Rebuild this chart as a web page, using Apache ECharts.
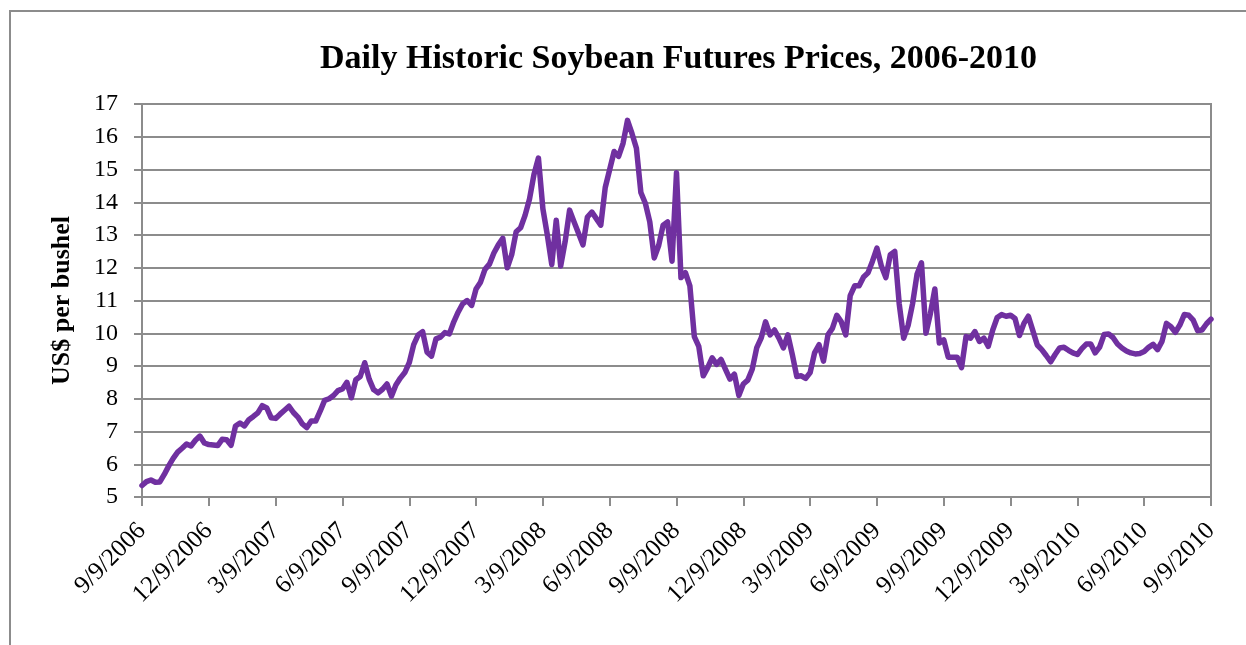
<!DOCTYPE html>
<html>
<head>
<meta charset="utf-8">
<script src="https://cdn.jsdelivr.net/npm/echarts@6/dist/echarts.min.js"></script>
<style>
    html, body { margin: 0; padding: 0; background: #fff; }
    #soyChart { width: 1246px; height: 645px; }
</style>
</head>
<body>
<div id="soyChart"></div>
<script>
    // quarter tick labels, every 3 months from 9/9/2006
    var tickLabels = ['9/9/2006', '12/9/2006', '3/9/2007', '6/9/2007', '9/9/2007', '12/9/2007',
        '3/9/2008', '6/9/2008', '9/9/2008', '12/9/2008', '3/9/2009', '6/9/2009', '9/9/2009',
        '12/9/2009', '3/9/2010', '6/9/2010', '9/9/2010'];

    // months between two readings
    var monthStep = 0.2;

    // US$ per bushel, one row per quarter
    var prices = [
        5.35, 5.47, 5.52, 5.45, 5.46, 5.69, 5.95, 6.18, 6.37, 6.49, 6.62, 6.56, 6.73, 6.86, 6.65,
        6.6, 6.59, 6.57, 6.76, 6.75, 6.58, 7.17, 7.26, 7.17, 7.36, 7.46, 7.57, 7.79, 7.72, 7.42,
        7.4, 7.53, 7.65, 7.77, 7.58, 7.44, 7.23, 7.12, 7.32, 7.32, 7.62, 7.95, 8.0, 8.1, 8.25,
        8.3, 8.5, 8.03, 8.58, 8.68, 9.1, 8.6, 8.28, 8.18, 8.29, 8.45, 8.08, 8.42, 8.63, 8.8,
        9.1, 9.65, 9.95, 10.05, 9.42, 9.3, 9.83, 9.88, 10.02, 9.98, 10.35, 10.65, 10.9, 11.0, 10.85,
        11.35, 11.56, 11.95, 12.11, 12.45, 12.7, 12.9, 12.0, 12.4, 13.1, 13.22, 13.6, 14.1, 14.85, 15.35,
        13.8, 13.0, 12.1, 13.45, 12.05, 12.8, 13.76, 13.4, 13.05, 12.7, 13.55, 13.7, 13.5, 13.3, 14.45,
        15.0, 15.55, 15.4, 15.8, 16.5, 16.1, 15.65, 14.3, 13.97, 13.4, 12.3, 12.68, 13.3, 13.4, 12.2,
        14.9, 11.7, 11.85, 11.45, 9.9, 9.6, 8.7, 8.95, 9.25, 9.05, 9.2, 8.9, 8.6, 8.75, 8.1,
        8.45, 8.57, 8.9, 9.55, 9.85, 10.35, 9.95, 10.1, 9.85, 9.55, 9.95, 9.35, 8.68, 8.7, 8.62,
        8.8, 9.4, 9.65, 9.15, 9.95, 10.15, 10.55, 10.35, 9.95, 11.15, 11.45, 11.45, 11.72, 11.85, 12.2,
        12.6, 12.05, 11.7, 12.4, 12.5, 10.9, 9.85, 10.24, 10.9, 11.8, 12.15, 10.0, 10.6, 11.35, 9.7,
        9.8, 9.27, 9.27, 9.27, 8.95, 9.9, 9.85, 10.05, 9.75, 9.85, 9.6, 10.1, 10.48, 10.57, 10.52,
        10.55, 10.45, 9.93, 10.3, 10.52, 10.08, 9.64, 9.5, 9.32, 9.13, 9.35, 9.55, 9.57, 9.48, 9.4,
        9.35, 9.53, 9.67, 9.67, 9.4, 9.58, 9.96, 9.98, 9.87, 9.67, 9.55, 9.46, 9.4, 9.37, 9.38,
        9.44, 9.57, 9.66, 9.5, 9.75, 10.3, 10.2, 10.03, 10.25, 10.57, 10.55, 10.4, 10.08, 10.1, 10.29,
        10.43
    ];

    var seriesData = prices.map(function (p, i) {
        return [i * monthStep, p];
    });

    var gridGray = '#8c8c8c';
    var serif = '"Liberation Serif", "DejaVu Serif", serif';

    var soyChart = echarts.init(document.getElementById('soyChart'));
    var option = {
        backgroundColor: '#fff',
        animation: false,
        graphic: [{
            type: 'rect',
            shape: {x: 10, y: 11, width: 1400, height: 800},
            style: {fill: 'none', stroke: gridGray, lineWidth: 2}
        }],
        title: {
            text: 'Daily Historic Soybean Futures Prices, 2006-2010',
            left: 315,
            top: 37,
            textStyle: {
                fontFamily: serif,
                fontSize: 34,
                fontWeight: 'bold',
                color: '#000'
            }
        },
        grid: {
            left: 142,
            right: 35,
            top: 104,
            bottom: 148,
            show: true,
            borderColor: gridGray,
            borderWidth: 2
        },
        xAxis: {
            type: 'value',
            min: 0,
            max: 48,
            interval: 3,
            axisLine: {lineStyle: {color: gridGray, width: 2}},
            axisTick: {length: 9, lineStyle: {color: gridGray, width: 2}},
            splitLine: {show: false},
            axisLabel: {
                rotate: 45,
                margin: 30,
                fontFamily: serif,
                fontSize: 25,
                color: '#000',
                formatter: function (v) {
                    return tickLabels[Math.round(v / 3)];
                }
            }
        },
        yAxis: {
            type: 'value',
            min: 5,
            max: 17,
            interval: 1,
            name: 'US$ per bushel',
            nameLocation: 'middle',
            nameRotate: 90,
            nameGap: 67,
            nameTextStyle: {
                fontFamily: serif,
                fontSize: 26,
                fontWeight: 'bold',
                color: '#000'
            },
            axisLine: {show: true, lineStyle: {color: gridGray, width: 2}},
            axisTick: {show: true, length: 8, lineStyle: {color: gridGray, width: 2}},
            splitLine: {lineStyle: {color: gridGray, width: 2}},
            axisLabel: {
                margin: 24,
                fontFamily: serif,
                fontSize: 24,
                color: '#000'
            }
        },
        series: [{
            type: 'line',
            data: seriesData,
            showSymbol: false,
            lineStyle: {color: '#7030A0', width: 5.5, join: 'round', cap: 'round'}
        }]
    };
    soyChart.setOption(option);
</script>
</body>
</html>
